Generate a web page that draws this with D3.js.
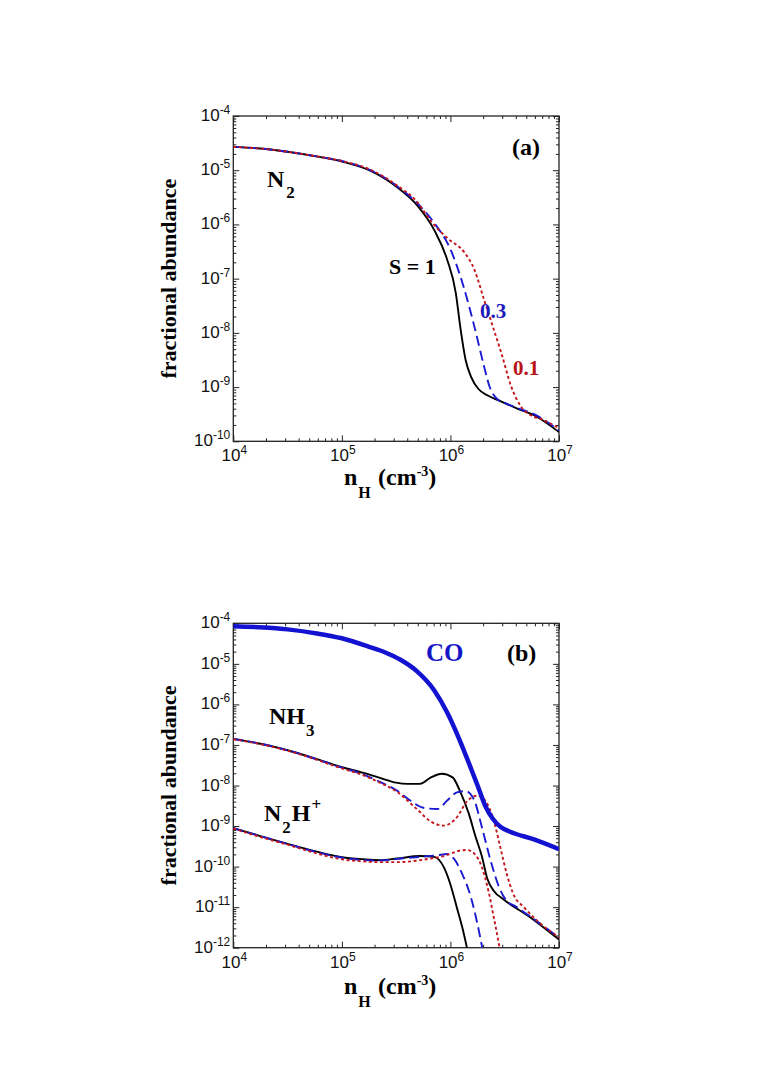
<!DOCTYPE html>
<html>
<head>
<meta charset="utf-8">
<script src="https://cdn.jsdelivr.net/npm/d3@7"></script>
<style>
  body { margin: 0; background: #fff; }
  .tick-label { font-family: "Liberation Sans", Arial, sans-serif; font-size: 17px; fill: #111; }
  .title { font-family: "Liberation Serif", "Times New Roman", serif; font-weight: bold; }
</style>
</head>
<body>
<svg id="fig" width="770" height="1090"></svg>
<script>
// all values are [log10 nH, log10 abundance]

// panel (a): N2 for S = 1, 0.3, 0.1
const n2S1 = [[4.0,-4.57],[4.25,-4.60],[4.5,-4.66],[4.75,-4.74],[5.0,-4.84],[5.25,-5.0],[5.5,-5.30],
  [5.69,-5.64],[5.85,-6.10],[5.97,-6.65],[6.05,-7.27],[6.09,-7.88],[6.14,-8.50],[6.19,-8.81],
  [6.26,-9.04],[6.34,-9.15],[6.45,-9.25],[6.62,-9.40],[6.77,-9.52],[7.0,-9.83]];
const n2S03 = [[4.0,-4.57],[4.25,-4.60],[4.5,-4.66],[4.75,-4.74],[5.0,-4.83],[5.25,-4.99],[5.5,-5.28],
  [5.69,-5.60],[5.85,-5.97],[6.0,-6.46],[6.12,-7.14],[6.22,-7.88],[6.31,-8.62],[6.36,-8.99],
  [6.43,-9.22],[6.5,-9.29],[6.62,-9.39],[6.77,-9.50],[7.0,-9.80]];
const n2S01 = [[4.0,-4.57],[4.25,-4.60],[4.5,-4.66],[4.75,-4.74],[5.0,-4.83],[5.25,-4.98],[5.5,-5.27],
  [5.69,-5.58],[5.82,-5.94],[5.97,-6.25],[6.13,-6.52],[6.22,-6.83],[6.31,-7.39],[6.39,-7.88],
  [6.47,-8.38],[6.56,-8.99],[6.65,-9.36],[6.74,-9.52],[6.85,-9.60],[7.0,-9.76]];

// panel (b): CO, NH3, N2H+
const coS1 = [[4.0,-4.07],[4.5,-4.15],[4.77,-4.25],[5.0,-4.37],[5.25,-4.58],[5.4,-4.72],[5.54,-4.90],
  [5.69,-5.18],[5.85,-5.65],[5.97,-6.20],[6.08,-6.85],[6.17,-7.45],[6.25,-8.0],[6.32,-8.5],
  [6.39,-8.82],[6.46,-9.02],[6.55,-9.14],[6.77,-9.33],[7.0,-9.57]];

const nh3S1 = [[4.0,-6.85],[4.25,-6.97],[4.5,-7.13],[4.75,-7.33],[5.0,-7.55],[5.2,-7.69],[5.35,-7.81],
  [5.5,-7.93],[5.6,-7.96],[5.72,-7.96],[5.82,-7.80],[5.92,-7.71],[6.02,-7.80],
  [6.09,-8.15],[6.17,-8.70],[6.23,-9.25],[6.29,-9.75],[6.34,-10.30],[6.40,-10.60],[6.49,-10.81],
  [6.74,-11.26],[7.0,-11.80]];
const nh3S03 = [[4.0,-6.85],[4.25,-6.97],[4.5,-7.13],[4.75,-7.34],[5.0,-7.56],[5.2,-7.73],[5.35,-7.91],
  [5.51,-8.13],[5.63,-8.37],[5.75,-8.55],[5.88,-8.58],[5.97,-8.37],[6.06,-8.17],[6.14,-8.14],
  [6.22,-8.37],[6.29,-9.03],[6.37,-9.85],[6.45,-10.52],[6.52,-10.85],[6.6,-10.98],[6.74,-11.24],
  [7.0,-11.75]];
const nh3S01 = [[4.0,-6.86],[4.25,-6.98],[4.5,-7.14],[4.75,-7.35],[5.0,-7.58],[5.2,-7.75],[5.35,-7.93],
  [5.51,-8.16],[5.69,-8.58],[5.82,-8.89],[5.94,-8.99],[6.06,-8.78],[6.15,-8.40],[6.25,-8.25],
  [6.32,-8.37],[6.40,-8.87],[6.46,-9.53],[6.52,-10.19],[6.58,-10.68],[6.68,-11.01],[6.80,-11.34],
  [7.0,-11.74]];

const n2hS1 = [[4.0,-9.05],[4.25,-9.25],[4.5,-9.44],[4.75,-9.62],[5.0,-9.77],[5.2,-9.82],[5.35,-9.84],
  [5.51,-9.80],[5.72,-9.74],[5.85,-9.76],[5.94,-10.02],[6.0,-10.44],[6.06,-11.02],[6.11,-11.51],
  [6.16,-12.1]];
const n2hS03 = [[4.0,-9.05],[4.25,-9.25],[4.5,-9.44],[4.75,-9.63],[5.0,-9.78],[5.2,-9.84],[5.35,-9.85],
  [5.51,-9.81],[5.72,-9.76],[5.88,-9.72],[5.97,-9.69],[6.03,-9.80],[6.11,-10.19],[6.19,-10.77],
  [6.25,-11.43],[6.30,-12.1]];
const n2hS01 = [[4.0,-9.06],[4.25,-9.27],[4.5,-9.46],[4.75,-9.66],[5.0,-9.82],[5.2,-9.87],[5.35,-9.89],
  [5.51,-9.89],[5.82,-9.80],[5.94,-9.74],[6.08,-9.61],[6.15,-9.59],[6.22,-9.68],[6.29,-10.02],
  [6.35,-10.60],[6.40,-11.26],[6.46,-12.1]];

const xTickExps = [4, 5, 6, 7];
const yTickExpsA = [-4, -5, -6, -7, -8, -9, -10];
const yTickExpsB = [-4, -5, -6, -7, -8, -9, -10, -11, -12];

const styles = {
  s1:  { stroke: "#000", width: 1.9, dash: null },
  s03: { stroke: "#1a1ad2", width: 1.9, dash: "10,5" },
  s01: { stroke: "#c4161c", width: 1.9, dash: "3,2.6" },
  co:  { stroke: "#1212d0", width: 4.5, dash: null }
};

const svg = d3.select("#fig");

function isMajor(t) {
  const l = Math.log10(t);
  return Math.abs(l - Math.round(l)) < 1e-9;
}

function drawPanel(cfg) {
  const { id, left, right, top, bottom, yExps, lines, titleBase } = cfg;
  const x = d3.scaleLog().domain([1e4, 1e7]).range([left, right]);
  const y = d3.scaleLog().domain([10 ** d3.min(yExps), 10 ** d3.max(yExps)]).range([bottom, top]);

  const g = svg.append("g");
  g.append("defs").append("clipPath").attr("id", id)
    .append("rect").attr("x", left).attr("y", top).attr("width", right - left).attr("height", bottom - top);

  // ticks on all four sides, pointing in
  const xt = x.ticks(), yt = y.ticks();
  const axes = [
    [d3.axisBottom(x).tickValues(xt), `translate(0,${bottom})`, "y2", -1],
    [d3.axisTop(x).tickValues(xt), `translate(0,${top})`, "y2", 1],
    [d3.axisLeft(y).tickValues(yt), `translate(${left},0)`, "x2", 1],
    [d3.axisRight(y).tickValues(yt), `translate(${right},0)`, "x2", -1]
  ];
  axes.forEach(([ax, tr, attr, sign]) => {
    const a = g.append("g").attr("transform", tr).call(ax.tickFormat(""));
    a.select(".domain").remove();
    a.selectAll(".tick line")
      .attr(attr, d => sign * (isMajor(d) ? 6 : 3))
      .attr("stroke", "#222").attr("stroke-width", 1);
  });

  g.append("rect")
    .attr("x", left).attr("y", top).attr("width", right - left).attr("height", bottom - top)
    .attr("fill", "none").attr("stroke", "#222").attr("stroke-width", 1.3);

  // tick labels 10^n
  const xl = g.append("g").selectAll("text").data(xTickExps).join("text")
    .attr("class", "tick-label").attr("text-anchor", "middle")
    .attr("x", d => x(10 ** d) + 1).attr("y", bottom + 20);
  xl.append("tspan").text("10");
  xl.append("tspan").attr("font-size", 12).attr("dy", -7).text(d => d);

  const yl = g.append("g").selectAll("text").data(yExps).join("text")
    .attr("class", "tick-label").attr("text-anchor", "end")
    .attr("x", left - 3).attr("y", d => y(10 ** d) + 5);
  yl.append("tspan").text("10");
  yl.append("tspan").attr("font-size", 12).attr("dy", -7).text(d => "-" + Math.abs(d));

  // curves
  const line = d3.line()
    .x(d => x(10 ** d[0]))
    .y(d => y(10 ** d[1]))
    .curve(d3.curveMonotoneX);
  const plot = g.append("g").attr("clip-path", `url(#${id})`);
  lines.forEach(([data, st]) => {
    plot.append("path").datum(data)
      .attr("fill", "none")
      .attr("stroke", st.stroke)
      .attr("stroke-width", st.width)
      .attr("stroke-dasharray", st.dash)
      .attr("stroke-linejoin", "round")
      .attr("d", line);
  });

  // axis titles
  g.append("text").attr("class", "title")
    .attr("transform", `translate(176,${(top + bottom) / 2}) rotate(-90)`)
    .attr("text-anchor", "middle").attr("font-size", 22)
    .text("fractional abundance");

  const xt2 = g.append("text").attr("class", "title").attr("font-size", 24)
    .attr("x", 344).attr("y", titleBase);
  xt2.append("tspan").text("n");
  xt2.append("tspan").attr("font-size", 16).attr("dy", 13).attr("dx", 1).text("H");
  xt2.append("tspan").attr("x", 378).attr("dy", -13).text("(cm");
  xt2.append("tspan").attr("font-size", 14).attr("dy", -9).text("-3");
  xt2.append("tspan").attr("dy", 9).text(")");

  return g;
}

// panel (a)
const ga = drawPanel({
  id: "clipA", left: 233.3, right: 559, top: 116, bottom: 441.3,
  yExps: yTickExpsA, titleBase: 485,
  lines: [[n2S1, styles.s1], [n2S03, styles.s03], [n2S01, styles.s01]]
});

function label(g, txt, xPos, yPos, size, color) {
  return g.append("text").attr("class", "title")
    .attr("x", xPos).attr("y", yPos).attr("font-size", size)
    .attr("fill", color || "#000").text(txt);
}

label(ga, "(a)", 512, 155, 24);
const n2lab = label(ga, "N", 267, 187, 24);
n2lab.append("tspan").attr("font-size", 17).attr("dy", 11).attr("dx", 2).text("2");
label(ga, "S = 1", 389, 274, 22);
label(ga, "0.3", 480, 318, 21, "#1a1ab8");
label(ga, "0.1", 513, 375, 21, "#b81418");

// panel (b)
const gb = drawPanel({
  id: "clipB", left: 233.3, right: 559, top: 623.3, bottom: 947.7,
  yExps: yTickExpsB, titleBase: 994,
  lines: [[nh3S1, styles.s1], [nh3S03, styles.s03], [nh3S01, styles.s01],
          [n2hS1, styles.s1], [n2hS03, styles.s03], [n2hS01, styles.s01],
          [coS1, styles.co]]
});

label(gb, "(b)", 507, 661, 24);
label(gb, "CO", 426, 661, 25, "#1515c8");
const nh3lab = label(gb, "NH", 269, 724, 24);
nh3lab.append("tspan").attr("font-size", 17).attr("dy", 12).attr("dx", 1).text("3");
const n2hlab = label(gb, "N", 264, 821, 24);
n2hlab.append("tspan").attr("font-size", 17).attr("dy", 12).attr("dx", 1).text("2");
n2hlab.append("tspan").attr("dy", -12).attr("dx", 1).text("H");
n2hlab.append("tspan").attr("font-size", 17).attr("dy", -11).attr("dx", 1).text("+");
</script>
</body>
</html>
